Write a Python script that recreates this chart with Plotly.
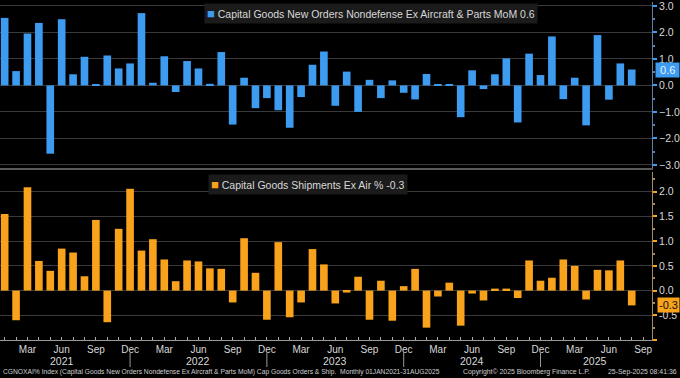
import plotly.graph_objects as go

months = ["Jan", "Feb", "Mar", "Apr", "May", "Jun", "Jul", "Aug", "Sep", "Oct", "Nov", "Dec"]
years = ["2021", "2022", "2023", "2024", "2025"]
year_label_pos = [5, 17, 29, 41, 51.8]
year_sep_pos = [11, 23, 35, 47]

# Jan 2021 .. Aug 2025 (56 months)
orders = [2.55, 0.54, 1.96, 2.36, -2.58, 2.50, 0.42, 1.08, 0.02, 1.13, 0.64, 0.83,
          2.73, 0.10, 1.10, -0.25, 0.92, 0.64, 0.06, 1.26, -1.48, 0.29, -0.86, -0.48,
          -0.94, -1.60, -0.44, 0.78, 1.28, -0.77, 0.52, -1.00, 0.21, -0.48, 0.19, -0.28,
          -0.53, 0.43, 0.02, 0.05, -1.20, 0.57, -0.14, 0.42, 1.02, -1.40, 1.20, 0.39,
          1.85, -0.52, 0.29, -1.51, 1.90, -0.54, 0.83, 0.60]
shipments = [1.55, -0.60, 2.09, 0.60, 0.40, 0.85, 0.77, 0.29, 1.43, -0.64, 1.25, 2.06,
             0.81, 1.04, 0.63, 0.19, 0.61, 0.59, 0.45, 0.44, -0.24, 1.06, 0.36, -0.59,
             0.98, -0.54, -0.24, 0.84, 0.53, -0.26, -0.04, 0.28, -0.59, 0.20, -0.61, 0.09,
             0.44, -0.75, -0.12, 0.16, -0.71, -0.06, -0.20, 0.04, 0.04, -0.15, 0.61, 0.20,
             0.26, 0.63, 0.50, -0.18, 0.42, 0.41, 0.61, -0.30]

orders_name = "Capital Goods New Orders Nondefense Ex Aircraft & Parts MoM"
ship_name = "Capital Goods Shipments Ex Air %"
footer_left = "CGNOXAI% Index (Capital Goods New Orders Nondefense Ex Aircraft & Parts MoM) Cap Goods Orders & Ship.  Monthly 01JAN2021-31AUG2025"
footer_mid = "Copyright\u00a9 2025 Bloomberg Finance L.P."
footer_right = "25-Sep-2025 08:41:36"

BLUE = "#3d9bf0"
ORANGE = "#f9a21b"
GRID = "#3a3a3a"
TXT = "#d8d8d8"
FONT = "Liberation Sans"

n = len(orders)
x = list(range(n))
tickvals = list(range(n + 1))
ticktext = [months[i % 12] if i % 3 == 2 else "" for i in tickvals]

fig = go.Figure()
fig.add_trace(go.Bar(x=x, y=orders, marker_color=BLUE, marker_line_width=0,
                     xaxis="x", yaxis="y", showlegend=False))
fig.add_trace(go.Bar(x=x, y=shipments, marker_color=ORANGE, marker_line_width=0,
                     xaxis="x2", yaxis="y2", showlegend=False))

xr = [-0.41, 56.78]
H = 378.0
W = 652.0
top_dom = [(H - 168) / H, (H - 2) / H]
bot_dom = [(H - 340) / H, (H - 172) / H]
xdom = [0, 1]

fig.update_layout(
    width=680, height=378,
    margin=dict(l=0, r=28, t=0, b=0, autoexpand=False),
    paper_bgcolor="black", plot_bgcolor="black",
    bargap=0.33,
    font=dict(family=FONT, color=TXT, size=10),
    xaxis=dict(domain=xdom, range=xr, anchor="y", showticklabels=False, ticks="",
               showgrid=False, zeroline=False, showline=True, linecolor="#5a5a5a",
               linewidth=2),
    yaxis=dict(domain=top_dom, range=[-3.12, 3.15], side="right", anchor="x",
               tickvals=[-3, -2, -1, 0, 1, 2, 3], tickformat=".1f",
               ticklabeloverflow="allow",
               gridcolor=GRID, gridwidth=1, zeroline=False,
               showline=True, linecolor="#5b7fa8", linewidth=1,
               ticks="outside", ticklen=4, tickcolor=BLUE, tickwidth=2,
               minor=dict(dtick=0.5, ticks="outside", ticklen=2, tickcolor="#5b7fa8", showgrid=False),
               tickfont=dict(size=10.5, color=TXT)),
    xaxis2=dict(domain=xdom, range=xr, anchor="y2", tickvals=tickvals, ticktext=ticktext,
                ticks="inside", ticklen=3, tickcolor="#aaaaaa", showgrid=False,
                ticklabeloverflow="allow",
                zeroline=False, showline=True, linecolor="#9a9a9a", linewidth=1,
                tickfont=dict(size=10, color=TXT)),
    yaxis2=dict(domain=bot_dom, range=[-1.0, 2.4], side="right", anchor="x2",
                tickvals=[-1.0, -0.5, 0, 0.5, 1.0, 1.5, 2.0],
                ticktext=["", "-0.5", "0.0", "0.5", "1.0", "1.5", "2.0"],
                ticklabeloverflow="allow",
                gridcolor=GRID, gridwidth=1, zeroline=False,
                showline=True, linecolor="#a58a5a", linewidth=1,
                ticks="outside", ticklen=4, tickcolor=ORANGE, tickwidth=2,
                minor=dict(dtick=0.25, ticks="outside", ticklen=2, tickcolor="#a58a5a", showgrid=False),
                tickfont=dict(size=10.5, color=TXT)),
)

ann = []
# legends
ann.append(dict(xref="paper", yref="paper", x=204 / W, y=(H - 3) / H, xanchor="left", yanchor="top",
                text=f"<span style='color:{BLUE};font-size:13px'>\u25a0</span> {orders_name} {orders[-1]:.1f}",
                showarrow=False, bgcolor="#1b1b1b", borderpad=2,
                font=dict(size=10.5, color=TXT)))
ann.append(dict(xref="paper", yref="paper", x=208 / W, y=(H - 174) / H, xanchor="left", yanchor="top",
                text=f"<span style='color:{ORANGE};font-size:13px'>\u25a0</span> {ship_name} {shipments[-1]:.1f}",
                showarrow=False, bgcolor="#1b1b1b", borderpad=2,
                font=dict(size=10.5, color=TXT)))
# last value labels
ann.append(dict(xref="paper", yref="y", x=680 / W, y=orders[-1], xanchor="right", yanchor="middle",
                text=f" {orders[-1]:.1f} ", showarrow=False, bgcolor=BLUE, borderpad=1,
                font=dict(size=11, color="#e8f2ff")))
ann.append(dict(xref="paper", yref="y2", x=680 / W, y=shipments[-1], xanchor="right", yanchor="middle",
                text=f"{shipments[-1]:.1f}", showarrow=False, bgcolor=ORANGE, borderpad=1,
                font=dict(size=11, color="#111111")))
# years
for yl, xp in zip(years, year_label_pos):
    ann.append(dict(xref="x2", yref="paper", x=xp, y=(H - 361) / H, text=yl, showarrow=False,
                    xanchor="center", yanchor="middle", font=dict(size=10.5, color=TXT)))
# footer
ann.append(dict(xref="paper", yref="paper", x=1 / W, y=(H - 372) / H, xanchor="left", yanchor="middle",
                text=footer_left, showarrow=False, font=dict(size=6.7, color="#cfcfcf")))
ann.append(dict(xref="paper", yref="paper", x=461 / W, y=(H - 372) / H, xanchor="left", yanchor="middle",
                text=footer_mid, showarrow=False, font=dict(size=6.9, color="#cfcfcf")))
ann.append(dict(xref="paper", yref="paper", x=679 / W, y=(H - 372) / H, xanchor="right", yanchor="middle",
                text=footer_right, showarrow=False, font=dict(size=6.9, color="#cfcfcf")))
fig.update_layout(annotations=ann)

shapes = []
for xs in year_sep_pos:
    shapes.append(dict(type="line", xref="x2", yref="paper", x0=xs, x1=xs,
                       y0=(H - 353) / H, y1=(H - 367) / H, line=dict(color="#9a9a9a", width=1)))
fig.update_layout(shapes=shapes)

fig.write_html("out.html", config={"displayModeBar": False},
               post_script="document.body.style.margin='0';")
